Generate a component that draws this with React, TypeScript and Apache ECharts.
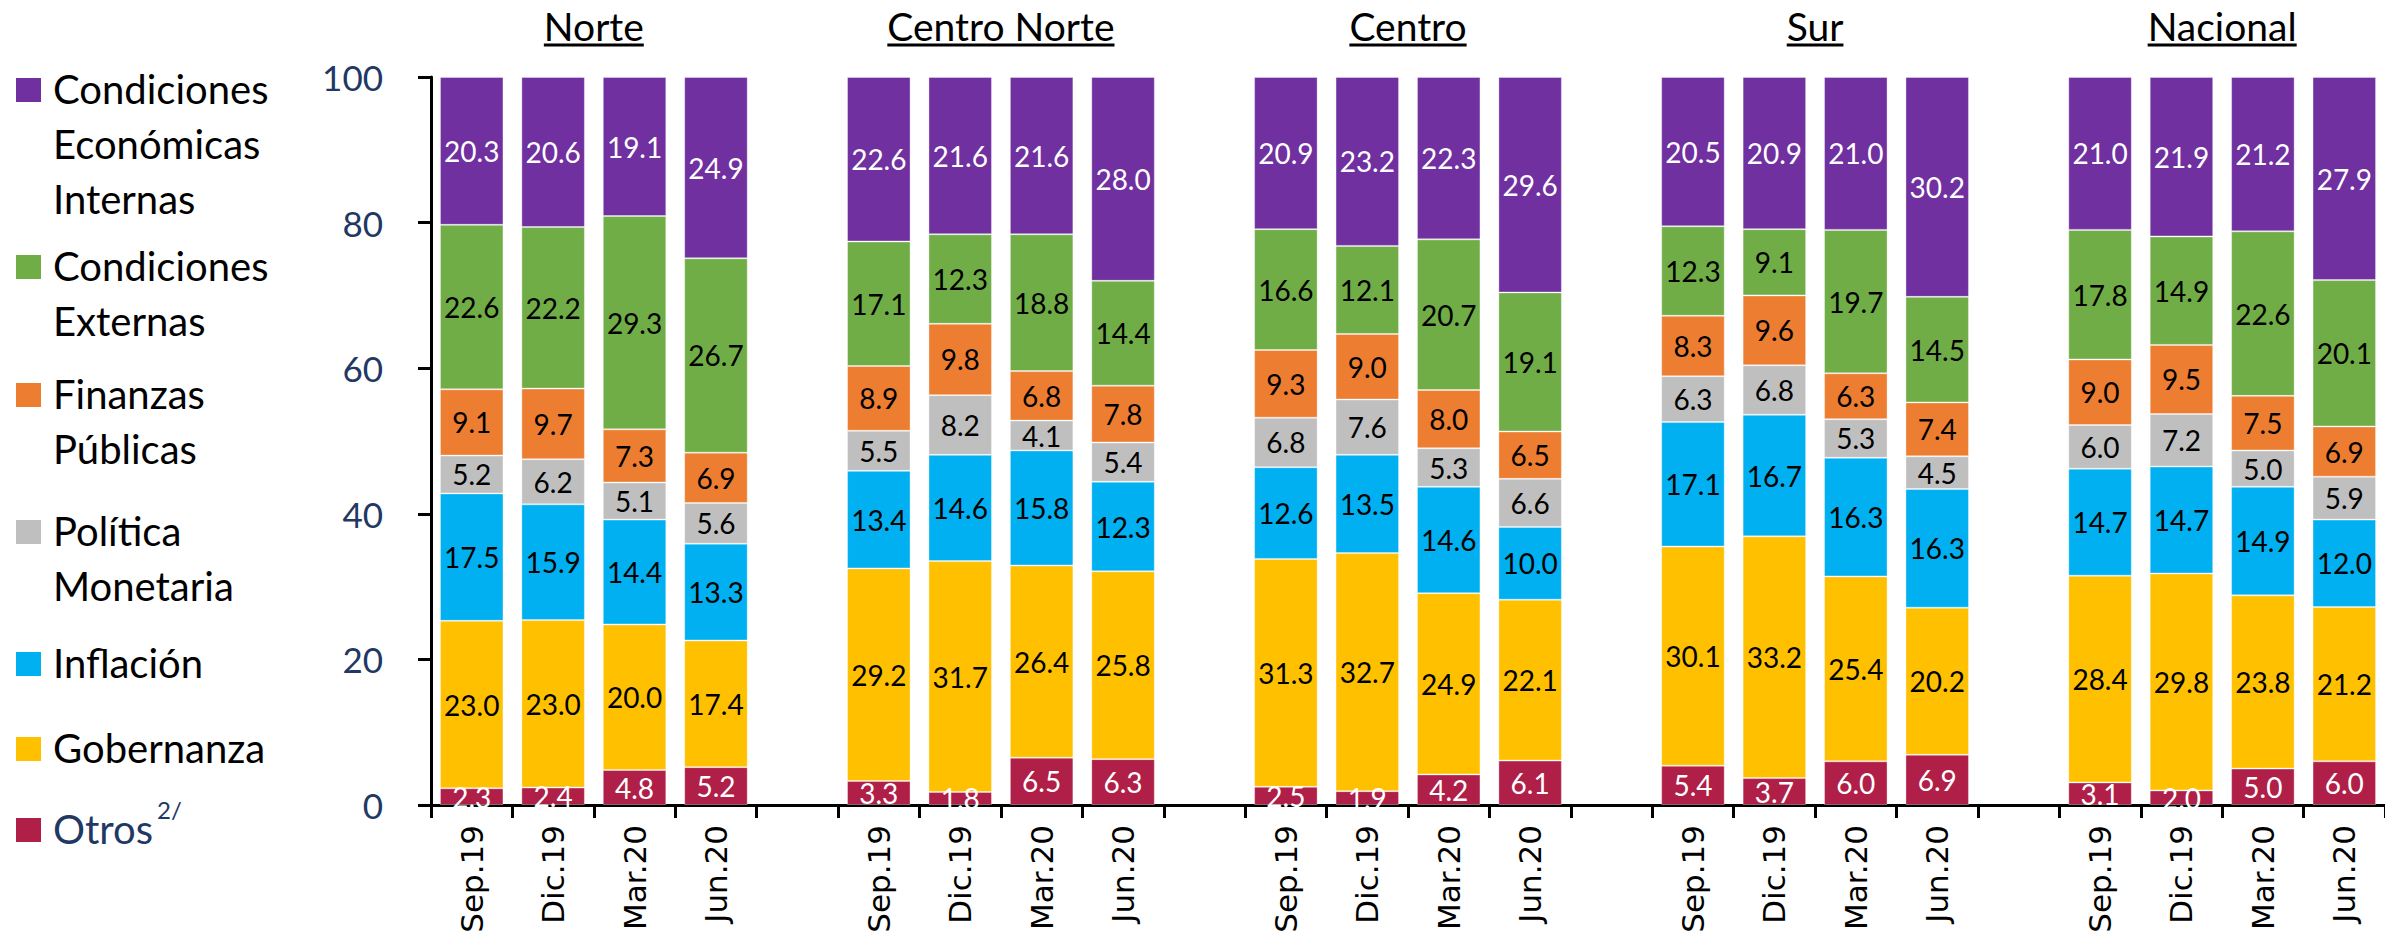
import React, { useEffect, useRef } from "react";
import * as echarts from "echarts";

const regions = ["Norte", "Centro Norte", "Centro", "Sur", "Nacional"];
const periods = ["Sep.19", "Dic.19", "Mar.20", "Jun.20"];

// bottom-to-top stacking order
const otros = [2.3, 2.4, 4.8, 5.2, 3.3, 1.8, 6.5, 6.3, 2.5, 1.9, 4.2, 6.1, 5.4, 3.7, 6.0, 6.9, 3.1, 2.0, 5.0, 6.0];
const gobernanza = [23.0, 23.0, 20.0, 17.4, 29.2, 31.7, 26.4, 25.8, 31.3, 32.7, 24.9, 22.1, 30.1, 33.2, 25.4, 20.2, 28.4, 29.8, 23.8, 21.2];
const inflacion = [17.5, 15.9, 14.4, 13.3, 13.4, 14.6, 15.8, 12.3, 12.6, 13.5, 14.6, 10.0, 17.1, 16.7, 16.3, 16.3, 14.7, 14.7, 14.9, 12.0];
const politica = [5.2, 6.2, 5.1, 5.6, 5.5, 8.2, 4.1, 5.4, 6.8, 7.6, 5.3, 6.6, 6.3, 6.8, 5.3, 4.5, 6.0, 7.2, 5.0, 5.9];
const finanzas = [9.1, 9.7, 7.3, 6.9, 8.9, 9.8, 6.8, 7.8, 9.3, 9.0, 8.0, 6.5, 8.3, 9.6, 6.3, 7.4, 9.0, 9.5, 7.5, 6.9];
const externas = [22.6, 22.2, 29.3, 26.7, 17.1, 12.3, 18.8, 14.4, 16.6, 12.1, 20.7, 19.1, 12.3, 9.1, 19.7, 14.5, 17.8, 14.9, 22.6, 20.1];
const internas = [20.3, 20.6, 19.1, 24.9, 22.6, 21.6, 21.6, 28.0, 20.9, 23.2, 22.3, 29.6, 20.5, 20.9, 21.0, 30.2, 21.0, 21.9, 21.2, 27.9];

const yTicks = [0, 20, 40, 60, 80, 100];

const seriesDefs = [
  { name: "Otros", data: otros, color: "#AF1F47", label: "#FFFFFF" },
  { name: "Gobernanza", data: gobernanza, color: "#FFC000", label: "#000000" },
  { name: "Inflación", data: inflacion, color: "#00B0F0", label: "#000000" },
  { name: "Política Monetaria", data: politica, color: "#BFBFBF", label: "#000000" },
  { name: "Finanzas Públicas", data: finanzas, color: "#ED7D31", label: "#000000" },
  { name: "Condiciones Externas", data: externas, color: "#70AD47", label: "#000000" },
  { name: "Condiciones Económicas Internas", data: internas, color: "#7030A0", label: "#FFFFFF" },
];

// legend layout (top to bottom)
const legendItems = [
  { lines: ["Condiciones", "Económicas", "Internas"], color: "#7030A0", base: 103 },
  { lines: ["Condiciones", "Externas"], color: "#70AD47", base: 280 },
  { lines: ["Finanzas", "Públicas"], color: "#ED7D31", base: 408 },
  { lines: ["Política", "Monetaria"], color: "#BFBFBF", base: 545 },
  { lines: ["Inflación"], color: "#00B0F0", base: 677 },
  { lines: ["Gobernanza"], color: "#FFC000", base: 762 },
  { lines: ["Otros"], color: "#AF1F47", base: 843, sup: "2/", textColor: "#1F3864" },
];

const FONT = "Lato, 'Open Sans', sans-serif";

function measure(text: string, font: string): number {
  const c = document.createElement("canvas").getContext("2d");
  if (!c) return text.length * 20;
  c.font = font;
  return c.measureText(text).width;
}

export default function App() {
  const ref = useRef<HTMLDivElement>(null);

  useEffect(() => {
    document.body.style.margin = "0";
    if (!ref.current) return;
    const chart = echarts.init(ref.current, undefined, { renderer: "svg" });

    // build category slots with an empty slot between regions
    const categories: string[] = [];
    const slotIndex: number[][] = [];
    regions.forEach((r, ri) => {
      if (ri > 0) categories.push("");
      const idx: number[] = [];
      periods.forEach((p) => {
        idx.push(categories.length);
        categories.push(p);
      });
      slotIndex.push(idx);
    });

    const expand = (vals: number[]) => {
      const out: (number | string)[] = categories.map(() => "-");
      let k = 0;
      slotIndex.forEach((idx) => idx.forEach((i) => { out[i] = vals[k++]; }));
      return out;
    };

    const series = seriesDefs.map((s) => ({
      name: s.name,
      type: "bar",
      stack: "total",
      barCategoryGap: "22%",
      data: expand(s.data),
      itemStyle: { color: s.color, borderColor: "rgba(255,255,255,0.35)", borderWidth: 1 },
      label: {
        show: true,
        position: "inside",
        color: s.label,
        fontFamily: FONT,
        fontSize: 28,
        formatter: (p: any) => Number(p.value).toFixed(1),
      },
    }));

    chart.setOption({
      animation: false,
      grid: { left: 431, right: 0, top: 77, bottom: 134, containLabel: false },
      xAxis: {
        type: "category",
        data: categories,
        axisLine: { lineStyle: { color: "#000", width: 3 } },
        axisTick: { show: true, interval: 0, length: 13, alignWithLabel: false, lineStyle: { color: "#000", width: 3 } },
        axisLabel: {
          interval: 0,
          rotate: 90,
          margin: 20,
          color: "#000",
          fontFamily: "'DejaVu Sans', Verdana, sans-serif",
          fontSize: 31,
        },
        splitLine: { show: false },
      },
      yAxis: {
        type: "value",
        min: yTicks[0],
        max: yTicks[yTicks.length - 1],
        interval: 20,
        axisLine: { show: true, lineStyle: { color: "#000", width: 3 } },
        axisTick: { show: true, length: 13, lineStyle: { color: "#000", width: 3 } },
        axisLabel: { margin: 48, color: "#1F3864", fontFamily: FONT, fontSize: 35 },
        splitLine: { show: false },
      },
      series,
    });

    const graphic: any[] = [];
    // region titles, underlined
    const titleFont = `39px ${FONT}`;
    regions.forEach((r, ri) => {
      const idx = slotIndex[ri];
      const x0 = chart.convertToPixel({ xAxisIndex: 0 }, idx[0]) as number;
      const x1 = chart.convertToPixel({ xAxisIndex: 0 }, idx[idx.length - 1]) as number;
      const cx = (x0 + x1) / 2;
      const w = measure(r, titleFont);
      graphic.push({
        type: "text",
        x: cx,
        y: 26,
        style: { text: r, font: titleFont, fill: "#000", align: "center", verticalAlign: "middle" },
      });
      graphic.push({
        type: "line",
        shape: { x1: cx - w / 2, y1: 45, x2: cx + w / 2, y2: 45 },
        style: { stroke: "#000", lineWidth: 3 },
      });
    });

    // legend
    const legFont = `40px ${FONT}`;
    legendItems.forEach((it) => {
      graphic.push({
        type: "rect",
        shape: { x: 16, y: it.base - 25, width: 25, height: 24 },
        style: { fill: it.color },
      });
      it.lines.forEach((ln, li) => {
        graphic.push({
          type: "text",
          x: 53,
          y: it.base + li * 55 - 14.5,
          style: { text: ln, font: legFont, fill: it.textColor || "#000", align: "left", verticalAlign: "middle" },
        });
      });
      if (it.sup) {
        const w = measure(it.lines[0], legFont);
        graphic.push({
          type: "text",
          x: 53 + w + 4,
          y: it.base - 34,
          style: { text: it.sup, font: `24px ${FONT}`, fill: "#1F3864", align: "left", verticalAlign: "middle" },
        });
      }
    });

    chart.setOption({ graphic });

    return () => chart.dispose();
  }, []);

  return <div ref={ref} style={{ width: 2385, height: 939 }} />;
}
